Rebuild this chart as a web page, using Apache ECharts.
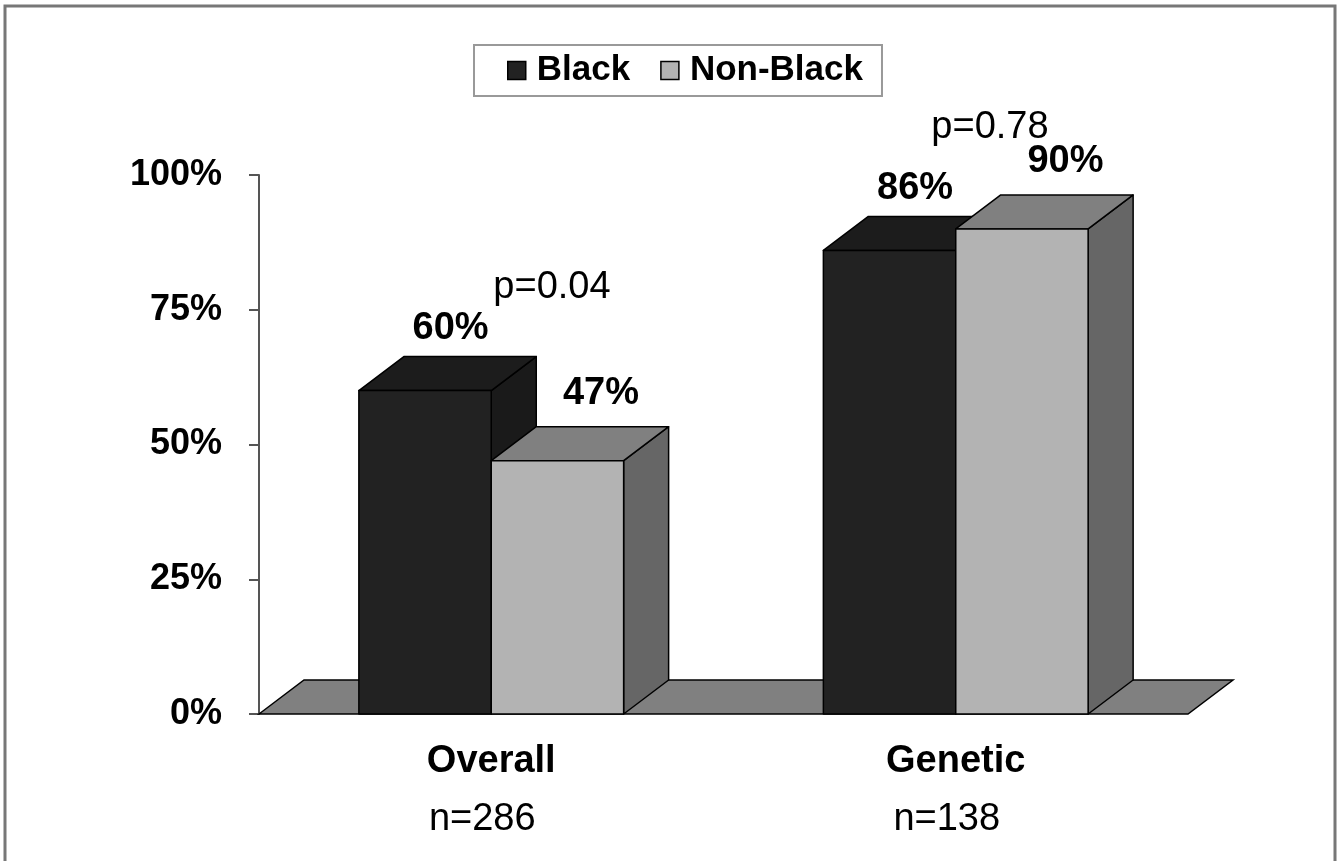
<!DOCTYPE html>
<html>
<head>
<meta charset="utf-8">
<script src="https://cdn.jsdelivr.net/npm/echarts@6/dist/echarts.min.js"></script>
<style>
html, body { margin: 0; padding: 0; background: #fff; }
#main { width: 1344px; height: 861px; }
</style>
</head>
<body>
<div id="main"></div>
<script>
var categories = ['Overall', 'Genetic'];
var sampleSizes = ['n=286', 'n=138'];
var blackValues = [60, 86];
var nonBlackValues = [47, 90];
var pValues = ['p=0.04', 'p=0.78'];
var yMin = 0, yMax = 100, yStep = 25;

var myChart = echarts.init(document.getElementById('main'));
var font = '"Liberation Sans", Arial, sans-serif';
// 3d depth offset
var DX = 45, DY = -34;
var BAR_RATIO = 0.285;

function toData(values) {
    return values.map(function (v, i) { return [i, v]; });
}

function barRenderer(side, colors, labelDx, labelUp) {
    return function (params, api) {
        var cat = api.value(0), val = api.value(1);
        var top = api.coord([cat, val]);
        var base = api.coord([cat, 0]);
        var w = api.size([1, 0])[0] * BAR_RATIO;
        var x0 = side === 0 ? top[0] - w : top[0];
        var x1 = x0 + w;
        var yt = top[1], yb = base[1];
        var line = { stroke: '#000', lineWidth: 1.5, lineJoin: 'round' };
        return {
            type: 'group',
            children: [{
                type: 'polygon',
                shape: { points: [[x1, yb], [x1 + DX, yb + DY], [x1 + DX, yt + DY], [x1, yt]] },
                style: Object.assign({ fill: colors.side }, line)
            }, {
                type: 'polygon',
                shape: { points: [[x0, yt], [x0 + DX, yt + DY], [x1 + DX, yt + DY], [x1, yt]] },
                style: Object.assign({ fill: colors.top }, line)
            }, {
                type: 'rect',
                shape: { x: x0, y: yt, width: w, height: yb - yt },
                style: Object.assign({ fill: colors.front }, line)
            }, {
                type: 'text',
                x: (x0 + x1) / 2 + DX / 2 + labelDx,
                y: yt + DY - labelUp,
                style: {
                    text: val + '%',
                    fill: '#000',
                    font: 'bold 38px ' + font,
                    align: 'center',
                    verticalAlign: 'middle'
                }
            }]
        };
    };
}

var option = {
    backgroundColor: '#fff',
    animation: false,
    grid: {
        left: 259,
        right: 156,
        top: 175,
        bottom: 147
    },
    legend: {
        left: 474,
        top: 45,
        padding: [8, 19, 8, 33],
        borderColor: '#999',
        borderWidth: 2,
        itemGap: 30,
        itemWidth: 18,
        itemHeight: 18,
        icon: 'rect',
        textStyle: {
            fontSize: 35,
            fontWeight: 'bold',
            fontFamily: font,
            color: '#000',
            padding: [0, 0, 0, 6]
        },
        data: [{
            name: 'Black',
            itemStyle: { color: '#222', borderColor: '#000', borderWidth: 1.5 }
        }, {
            name: 'Non-Black',
            itemStyle: { color: '#b3b3b3', borderColor: '#000', borderWidth: 1.5 }
        }]
    },
    xAxis: {
        type: 'category',
        data: categories,
        axisLine: { show: false },
        axisTick: { show: false },
        axisLabel: {
            margin: 19,
            formatter: function (v, i) {
                return '{b|' + v + '}\n{n|' + sampleSizes[i] + '}';
            },
            rich: {
                b: { fontSize: 38, fontWeight: 'bold', fontFamily: font, color: '#000', lineHeight: 58 },
                n: { fontSize: 38, fontFamily: font, color: '#000', lineHeight: 58, padding: [0, 18, 0, 0] }
            }
        }
    },
    yAxis: {
        type: 'value',
        min: yMin,
        max: yMax,
        interval: yStep,
        axisLine: { show: true, lineStyle: { color: '#555', width: 2 } },
        axisTick: { show: true, length: 10, lineStyle: { color: '#555', width: 2 } },
        splitLine: { show: false },
        axisLabel: {
            margin: 37,
            formatter: '{value}%',
            fontSize: 36,
            fontWeight: 'bold',
            fontFamily: font,
            color: '#000'
        }
    },
    graphic: [{
        type: 'rect',
        shape: { x: 5, y: 6, width: 1330, height: 880 },
        style: { fill: null, stroke: '#777', lineWidth: 3 },
        silent: true
    }, {
        type: 'text',
        x: 552,
        y: 288,
        style: { text: pValues[0], fill: '#000', font: '38px ' + font, align: 'center', verticalAlign: 'middle' }
    }, {
        type: 'text',
        x: 990,
        y: 128,
        style: { text: pValues[1], fill: '#000', font: '38px ' + font, align: 'center', verticalAlign: 'middle' }
    }],
    series: [{
        name: 'floor',
        type: 'custom',
        z: 1,
        silent: true,
        data: [[0, 0]],
        renderItem: function (params, api) {
            var cs = params.coordSys;
            var yb = cs.y + cs.height;
            return {
                type: 'polygon',
                shape: { points: [[cs.x, yb], [cs.x + DX, yb + DY], [cs.x + cs.width + DX, yb + DY], [cs.x + cs.width, yb]] },
                style: { fill: '#808080', stroke: '#000', lineWidth: 1.5 }
            };
        }
    }, {
        name: 'Black',
        type: 'custom',
        z: 2,
        itemStyle: { color: '#222' },
        data: toData(blackValues),
        renderItem: barRenderer(0, { front: '#222', top: '#1c1c1c', side: '#1a1a1a' }, 3, 28)
    }, {
        name: 'Non-Black',
        type: 'custom',
        z: 3,
        itemStyle: { color: '#b3b3b3' },
        data: toData(nonBlackValues),
        renderItem: barRenderer(1, { front: '#b3b3b3', top: '#808080', side: '#666' }, 21, 33)
    }]
};
myChart.setOption(option);
</script>
</body>
</html>
